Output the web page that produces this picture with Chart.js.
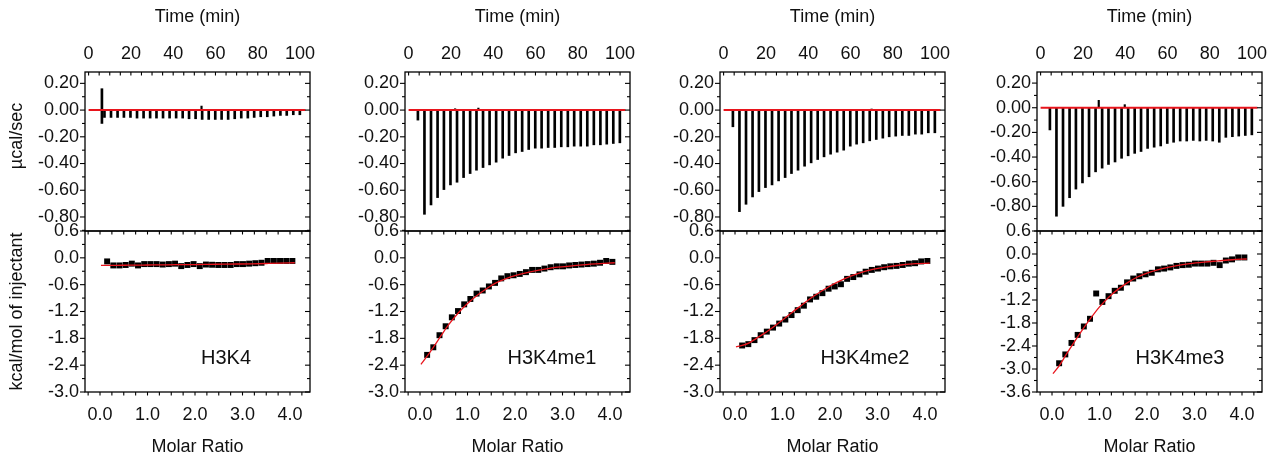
<!DOCTYPE html>
<html><head><meta charset="utf-8">
<script src="https://cdn.jsdelivr.net/npm/chart.js@4.4.1/dist/chart.umd.min.js"></script>
<style>
html,body{margin:0;padding:0;background:#fff;}
#wrap{position:relative;width:1284px;height:461px;overflow:hidden;background:#fff;}
#wrap canvas{position:absolute;left:0;top:0;}
</style></head><body><div id="wrap"></div>
<script>
// ---------------- data ----------------
const panelNames = ['H3K4', 'H3K4me1', 'H3K4me2', 'H3K4me3'];
const timeTicks = [0, 20, 40, 60, 80, 100];
const ratioTicks = [0, 1, 2, 3, 4];
const rawTicks = [0.2, 0, -0.2, -0.4, -0.6, -0.8];
const heatTicks = [0.6, 0, -0.6, -1.2, -1.8, -2.4, -3.0];
const heatTicks4 = [0.6, 0, -0.6, -1.2, -1.8, -2.4, -3.0, -3.6];

// injection times (min)
const injTime = [7.5, 10.6, 13.7, 16.7, 19.8, 22.9, 26.0, 29.1, 32.1, 35.2, 38.3, 41.4, 44.5, 47.5, 50.6, 53.7,
  56.8, 59.9, 62.9, 66.0, 69.1, 72.2, 75.3, 78.3, 81.4, 84.5, 87.6, 90.7, 93.7, 96.8, 99.9];
// first (small) injection: [time, low, high]
const firstInj1 = [6.3, -0.10, 0.16];
const firstInj2 = [4.4, -0.075, 0];
const firstInj3 = [4.4, -0.125, 0];
const firstInj4 = [4.4, -0.18, 0];
// peak heat rates (µcal/sec)
const peaks1 = [-0.055, -0.055, -0.055, -0.055, -0.055, -0.06, -0.06, -0.06, -0.06, -0.06, -0.06, -0.06, -0.06, -0.065, -0.065, -0.07,
  -0.07, -0.07, -0.07, -0.07, -0.065, -0.06, -0.06, -0.055, -0.05, -0.05, -0.045, -0.04, -0.04, -0.035, -0.035];
const peaks2 = [-0.78, -0.71, -0.655, -0.595, -0.56, -0.54, -0.505, -0.475, -0.45, -0.43, -0.41, -0.39, -0.36, -0.34, -0.32, -0.31,
  -0.295, -0.285, -0.285, -0.28, -0.28, -0.275, -0.275, -0.27, -0.27, -0.27, -0.26, -0.26, -0.255, -0.25, -0.245];
const peaks3 = [-0.76, -0.705, -0.65, -0.61, -0.58, -0.56, -0.53, -0.505, -0.475, -0.45, -0.42, -0.395, -0.37, -0.35, -0.33, -0.315,
  -0.30, -0.27, -0.255, -0.245, -0.23, -0.22, -0.21, -0.20, -0.195, -0.19, -0.19, -0.18, -0.18, -0.17, -0.17];
const peaks4 = [-0.88, -0.80, -0.73, -0.66, -0.61, -0.56, -0.52, -0.49, -0.46, -0.44, -0.41, -0.39, -0.37, -0.355, -0.33, -0.32,
  -0.31, -0.29, -0.28, -0.27, -0.27, -0.265, -0.27, -0.265, -0.27, -0.28, -0.24, -0.235, -0.23, -0.225, -0.22];
// small positive blips on the baseline: [time, value]
const blips1 = [[53.4, 0.03]];
const blips2 = [[22.0, 0.01], [33.0, 0.015]];
const blips3 = [[70.0, 0.008]];
const blips4 = [[27.5, 0.06], [39.8, 0.025]];
// baseline (red) extent
const baseX = [0, 102.5];

// integrated heats (kcal/mol of injectant) vs molar ratio
const ratio = [0.15, 0.28, 0.41, 0.54, 0.67, 0.80, 0.93, 1.06, 1.19, 1.32, 1.45, 1.58, 1.71, 1.84, 1.97, 2.10,
  2.23, 2.36, 2.49, 2.62, 2.75, 2.88, 3.01, 3.14, 3.27, 3.40, 3.53, 3.66, 3.79, 3.92, 4.05];
const heat1 = [-0.08, -0.17, -0.17, -0.16, -0.13, -0.17, -0.14, -0.14, -0.14, -0.15, -0.14, -0.13, -0.185, -0.16, -0.14, -0.185,
  -0.15, -0.155, -0.16, -0.16, -0.16, -0.14, -0.14, -0.13, -0.12, -0.11, -0.07, -0.07, -0.07, -0.07, -0.07];
const heat2 = [-2.17, -2.0, -1.73, -1.53, -1.33, -1.19, -1.04, -0.92, -0.80, -0.73, -0.64, -0.56, -0.46, -0.41, -0.39, -0.36,
  -0.32, -0.27, -0.27, -0.24, -0.21, -0.19, -0.19, -0.17, -0.16, -0.15, -0.14, -0.13, -0.11, -0.07, -0.09];
const heat3 = [-1.96, -1.93, -1.84, -1.73, -1.65, -1.56, -1.47, -1.38, -1.28, -1.17, -1.07, -0.93, -0.87, -0.79, -0.69, -0.64,
  -0.59, -0.47, -0.43, -0.37, -0.31, -0.27, -0.24, -0.21, -0.19, -0.18, -0.16, -0.13, -0.12, -0.08, -0.07];
const heat4 = [-2.85, -2.62, -2.32, -2.11, -1.89, -1.69, -1.03, -1.25, -1.10, -0.96, -0.88, -0.74, -0.64, -0.58, -0.53, -0.49,
  -0.40, -0.38, -0.35, -0.31, -0.29, -0.28, -0.25, -0.25, -0.25, -0.23, -0.29, -0.17, -0.14, -0.09, -0.09];
// fitted curves
const fitX = [0.02, 0.15, 0.3, 0.45, 0.6, 0.8, 1.0, 1.2, 1.4, 1.6, 1.8, 2.0, 2.3, 2.6, 2.9, 3.2, 3.5, 3.8, 4.1];
const fit1 = [-0.17, -0.17, -0.168, -0.166, -0.165, -0.163, -0.16, -0.158, -0.156, -0.154, -0.152, -0.15, -0.146, -0.142, -0.138, -0.133, -0.127, -0.12, -0.11];
const fit2 = [-2.38, -2.20, -1.97, -1.73, -1.50, -1.24, -1.02, -0.84, -0.69, -0.56, -0.47, -0.40, -0.32, -0.26, -0.21, -0.18, -0.15, -0.13, -0.11];
const fit3 = [-1.99, -1.96, -1.90, -1.80, -1.70, -1.55, -1.39, -1.22, -1.06, -0.90, -0.76, -0.63, -0.47, -0.35, -0.26, -0.20, -0.16, -0.13, -0.12];
const fit4 = [-3.12, -2.92, -2.62, -2.33, -2.05, -1.70, -1.38, -1.12, -0.91, -0.74, -0.60, -0.50, -0.39, -0.31, -0.25, -0.21, -0.18, -0.15, -0.13];

// ---------------- layout / style ----------------
const W = 1284, H = 461;
const FONT = "'Liberation Sans', Arial, Helvetica, sans-serif";
const TXT = '#111';
const RED = '#e8141c';
const panelLeft = [85, 405, 720, 1037];
const panelW = 225;
const topBox = [72, 231];
const botBox = [231, 392];
const rawRange = [[-0.905, 0.285], [-0.905, 0.285], [-0.905, 0.285], [-1.0, 0.29]];
const heatRange = [[-3.0, 0.6], [-3.0, 0.6], [-3.0, 0.6], [-3.6, 0.6]];
const timeRange = [-1.7, 104.7];
const ratioRange = [-0.316, 4.421];

const panels = [
  {first: firstInj1, peaks: peaks1, blips: blips1, heat: heat1, fit: fit1},
  {first: firstInj2, peaks: peaks2, blips: blips2, heat: heat2, fit: fit2},
  {first: firstInj3, peaks: peaks3, blips: blips3, heat: heat3, fit: fit3},
  {first: firstInj4, peaks: peaks4, blips: blips4, heat: heat4, fit: fit4}
];

const framePlugin = {
  id: 'frame',
  afterDatasetsDraw(chart, args, o) {
    const {ctx, chartArea: a} = chart;
    const xs = chart.scales.x, ys = chart.scales.y;
    ctx.save();
    ctx.strokeStyle = '#000';
    ctx.lineWidth = 1.3;
    ctx.strokeRect(a.left, a.top, a.right - a.left, a.bottom - a.top);
    ctx.lineWidth = 1.1;
    const seg = (x1, y1, x2, y2) => { ctx.beginPath(); ctx.moveTo(x1, y1); ctx.lineTo(x2, y2); ctx.stroke(); };
    const majors = ys.ticks.map(t => t.value);
    const k0 = Math.ceil(ys.min / o.yStep - 1e-6), k1 = Math.floor(ys.max / o.yStep + 1e-6);
    for (let k = k0; k <= k1; k++) {
      const v = k * o.yStep;
      const p = ys.getPixelForValue(v);
      const major = majors.some(m => Math.abs(m - v) < o.yStep / 10);
      const len = major ? 5 : 3;
      seg(a.left - len, p, a.left, p);
      seg(a.right, p, a.right - len, p);
    }
    const j0 = Math.ceil(xs.min / o.xStep - 1e-6), j1 = Math.floor(xs.max / o.xStep + 1e-6);
    for (let j = j0; j <= j1; j++) {
      const p = xs.getPixelForValue(j * o.xStep);
      if (o.topIn) seg(p, a.top, p, a.top + 3.5);
      if (o.bottomOut) seg(p, a.bottom, p, a.bottom + 3.5);
    }
    ctx.fillStyle = TXT;
    if (o.ylabel) {
      ctx.save();
      ctx.translate(o.ylabel.x, o.ylabel.y);
      ctx.rotate(-Math.PI / 2);
      ctx.font = '18px ' + FONT;
      ctx.textAlign = 'center';
      ctx.textBaseline = 'middle';
      ctx.fillText(o.ylabel.text, 0, 0);
      ctx.restore();
    }
    if (o.tag) {
      ctx.font = '20px ' + FONT;
      ctx.textAlign = 'center';
      ctx.textBaseline = 'middle';
      ctx.fillText(o.tag.text, a.left + o.tag.dx, o.tag.y);
    }
    ctx.restore();
  }
};

const wrap = document.getElementById('wrap');
function mkCanvas() {
  const c = document.createElement('canvas');
  c.width = W; c.height = H;
  c.style.width = W + 'px'; c.style.height = H + 'px';
  wrap.appendChild(c);
  return c.getContext('2d');
}
const tickFont = {family: FONT, size: 18};
const common = {
  responsive: false, animation: false, devicePixelRatio: 1, events: [],
};

panels.forEach((P, i) => {
  const L = panelLeft[i];
  const yW = i === 0 ? 85 : 60;
  // ---- thermogram ----
  const spikes = injTime.map((t, k) => ({x: t, y: [P.peaks[k], 0]}));
  spikes.unshift({x: P.first[0], y: [P.first[1], P.first[2]]});
  const blipBars = P.blips.map(b => ({x: b[0], y: [0, b[1]]}));
  new Chart(mkCanvas(), {
    type: 'line',
    data: {
      datasets: [
        {type: 'line', data: baseX.map(x => ({x, y: 0})), borderColor: RED, borderWidth: 2, pointRadius: 0},
        {type: 'bar', data: spikes, backgroundColor: '#000', barThickness: 2, grouped: false},
        {type: 'bar', data: blipBars, backgroundColor: '#000', barThickness: 1.5, grouped: false}
      ]
    },
    options: Object.assign({}, common, {
      layout: {padding: {left: L - yW, right: W - (L + panelW), top: 0, bottom: H - topBox[1]}},
      plugins: {
        legend: {display: false}, tooltip: {enabled: false},
        frame: {yStep: 0.1, xStep: 5, topIn: true, bottomOut: false,
          ylabel: i === 0 ? {text: 'µcal/sec', x: 17, y: 136} : null}
      },
      scales: {
        x: {
          type: 'linear', position: 'top', min: timeRange[0], max: timeRange[1], offset: false,
          afterBuildTicks: s => { s.ticks = timeTicks.map(v => ({value: v})); },
          afterFit: s => { s.height = topBox[0]; },
          grid: {display: false, drawTicks: false}, border: {display: false},
          ticks: {padding: 7, font: tickFont, color: TXT, autoSkip: false, maxRotation: 0, callback: v => String(v)},
          title: {display: true, text: 'Time (min)', font: tickFont, color: TXT, padding: {top: 6, bottom: 0}}
        },
        y: {
          type: 'linear', position: 'left', min: rawRange[i][0], max: rawRange[i][1],
          afterBuildTicks: s => { s.ticks = rawTicks.map(v => ({value: v})); },
          afterFit: s => { s.width = yW; },
          grid: {display: false, drawTicks: false}, border: {display: false},
          ticks: {padding: 6, font: tickFont, color: TXT, autoSkip: false, callback: v => v.toFixed(2)}
        }
      }
    }),
    plugins: [framePlugin]
  });

  // ---- binding isotherm ----
  const pts = ratio.map((r, k) => ({x: r, y: P.heat[k]}));
  const fitPts = fitX.map((r, k) => ({x: r, y: P.fit[k]}));
  const tagY = i === 3 ? 358 : 358;
  new Chart(mkCanvas(), {
    type: 'scatter',
    data: {
      datasets: [
        {type: 'line', data: fitPts, borderColor: RED, borderWidth: 1.3, pointRadius: 0, tension: 0.4, cubicInterpolationMode: 'monotone'},
        {type: 'scatter', data: pts, pointStyle: 'rect', pointRadius: 4.2, backgroundColor: '#000', borderWidth: 0}
      ]
    },
    options: Object.assign({}, common, {
      layout: {padding: {left: L - yW, right: W - (L + panelW), top: botBox[0], bottom: 0}},
      plugins: {
        legend: {display: false}, tooltip: {enabled: false},
        frame: {yStep: 0.3, xStep: 0.25, topIn: true, bottomOut: true,
          tag: {text: panelNames[i], dx: [141, 147, 145, 143][i], y: tagY}}
      },
      scales: {
        x: {
          type: 'linear', position: 'bottom', min: ratioRange[0], max: ratioRange[1], offset: false,
          afterBuildTicks: s => { s.ticks = ratioTicks.map(v => ({value: v})); },
          afterFit: s => { s.height = H - botBox[1]; },
          grid: {display: false, drawTicks: false}, border: {display: false},
          ticks: {padding: 12, font: tickFont, color: TXT, autoSkip: false, maxRotation: 0, callback: v => v.toFixed(1)},
          title: {display: true, text: 'Molar Ratio', font: tickFont, color: TXT, padding: {top: 0, bottom: 3}}
        },
        y: {
          type: 'linear', position: 'left', min: heatRange[i][0], max: heatRange[i][1],
          afterBuildTicks: s => { s.ticks = (i === 3 ? heatTicks4 : heatTicks).map(v => ({value: v})); },
          afterFit: s => { s.width = yW; },
          grid: {display: false, drawTicks: false}, border: {display: false},
          ticks: {padding: 6, font: tickFont, color: TXT, autoSkip: false, callback: v => v.toFixed(1)},
          title: {display: i === 0, text: 'kcal/mol of injectant', font: tickFont, color: TXT, padding: {top: 6, bottom: 0}}
        }
      }
    }),
    plugins: [framePlugin]
  });
});
</script>
</body></html>
